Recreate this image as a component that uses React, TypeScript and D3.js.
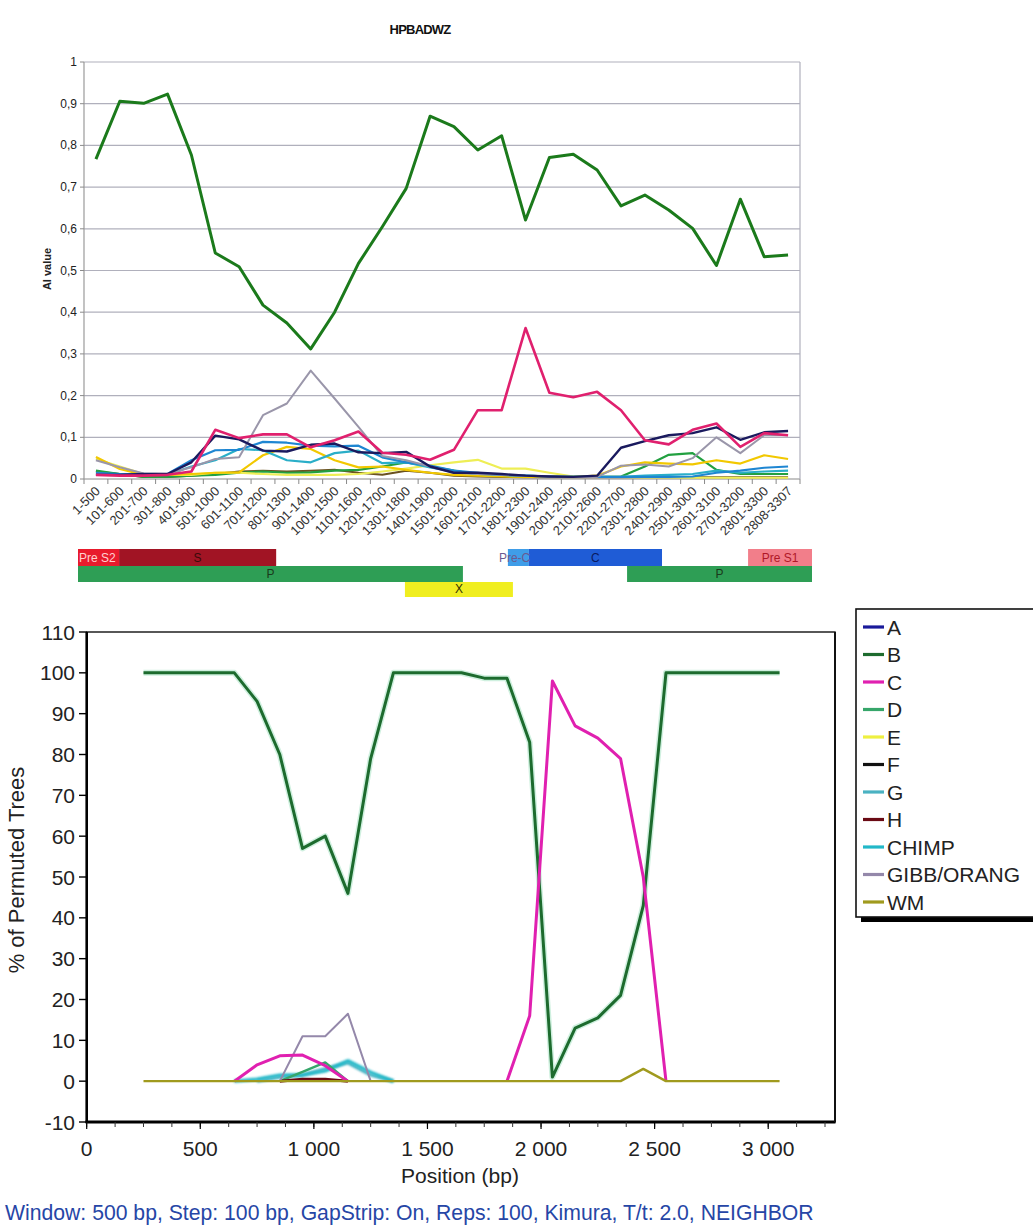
import React from "react";
import * as d3 from "d3";

// ---------------- Top chart data (AI value per window) ----------------
const topCategories = [
  "1-500", "101-600", "201-700", "301-800", "401-900", "501-1000", "601-1100",
  "701-1200", "801-1300", "901-1400", "1001-1500", "1101-1600", "1201-1700",
  "1301-1800", "1401-1900", "1501-2000", "1601-2100", "1701-2200", "1801-2300",
  "1901-2400", "2001-2500", "2101-2600", "2201-2700", "2301-2800", "2401-2900",
  "2501-3000", "2601-3100", "2701-3200", "2801-3300", "2808-3307",
];
const topYTicks = [0, 0.1, 0.2, 0.3, 0.4, 0.5, 0.6, 0.7, 0.8, 0.9, 1];
const topYTickLabels = ["0", "0,1", "0,2", "0,3", "0,4", "0,5", "0,6", "0,7", "0,8", "0,9", "1"];

const topB = [0.767, 0.906, 0.901, 0.923, 0.777, 0.542, 0.509, 0.417, 0.374, 0.312, 0.4, 0.517, 0.605, 0.697, 0.87, 0.845, 0.789, 0.823, 0.621, 0.771, 0.779, 0.741, 0.655, 0.681, 0.645, 0.601, 0.512, 0.671, 0.533, 0.537];
const topC = [0.01, 0.008, 0.008, 0.01, 0.018, 0.118, 0.098, 0.107, 0.107, 0.076, 0.093, 0.114, 0.063, 0.058, 0.046, 0.07, 0.165, 0.165, 0.362, 0.207, 0.196, 0.209, 0.165, 0.093, 0.083, 0.118, 0.133, 0.077, 0.11, 0.105];
const topGibb = [0.045, 0.028, 0.013, 0.012, 0.028, 0.048, 0.052, 0.153, 0.181, 0.26, 0.193, 0.125, 0.055, 0.045, 0.03, 0.015, 0.012, 0.01, 0.008, 0.006, 0.005, 0.005, 0.032, 0.035, 0.03, 0.05, 0.1, 0.062, 0.105, 0.105];
const topA = [0.01, 0.01, 0.012, 0.012, 0.04, 0.104, 0.095, 0.068, 0.066, 0.082, 0.085, 0.064, 0.062, 0.065, 0.03, 0.015, 0.015, 0.012, 0.008, 0.006, 0.005, 0.008, 0.075, 0.091, 0.105, 0.11, 0.124, 0.094, 0.112, 0.115];
const topG = [0.015, 0.012, 0.012, 0.012, 0.045, 0.069, 0.07, 0.089, 0.087, 0.08, 0.078, 0.08, 0.052, 0.04, 0.032, 0.02, 0.015, 0.01, 0.008, 0.006, 0.005, 0.005, 0.005, 0.005, 0.005, 0.006, 0.015, 0.02, 0.027, 0.03];
const topChimp = [0.012, 0.01, 0.01, 0.01, 0.03, 0.045, 0.072, 0.069, 0.045, 0.04, 0.062, 0.068, 0.038, 0.04, 0.028, 0.018, 0.012, 0.01, 0.008, 0.006, 0.005, 0.005, 0.005, 0.008, 0.01, 0.012, 0.02, 0.015, 0.018, 0.02];
const topE = [0.053, 0.024, 0.01, 0.01, 0.012, 0.015, 0.016, 0.057, 0.077, 0.072, 0.045, 0.028, 0.03, 0.022, 0.015, 0.01, 0.008, 0.006, 0.005, 0.005, 0.005, 0.008, 0.03, 0.04, 0.037, 0.035, 0.045, 0.037, 0.057, 0.048];
const topE2 = [0.048, 0.03, 0.012, 0.01, 0.01, 0.015, 0.015, 0.012, 0.01, 0.01, 0.01, 0.012, 0.018, 0.025, 0.033, 0.04, 0.046, 0.025, 0.025, 0.015, 0.006, 0.005, 0.005, 0.004, 0.004, 0.003, 0.003, 0.003, 0.003, 0.003];
const topD = [0.02, 0.012, 0.005, 0.005, 0.008, 0.01, 0.015, 0.018, 0.015, 0.016, 0.02, 0.022, 0.03, 0.04, 0.03, 0.02, 0.01, 0.008, 0.005, 0.005, 0.005, 0.005, 0.006, 0.03, 0.058, 0.062, 0.022, 0.012, 0.012, 0.012];
const topWM = [0.018, 0.012, 0.005, 0.005, 0.008, 0.012, 0.018, 0.02, 0.018, 0.02, 0.022, 0.015, 0.01, 0.02, 0.015, 0.008, 0.006, 0.005, 0.004, 0.004, 0.004, 0.004, 0.004, 0.004, 0.004, 0.004, 0.004, 0.004, 0.004, 0.004];

// ---------------- Genome map (bp) ----------------
const geneNames = ["Pre S2", "S", "P", "X", "Pre-C", "C", "P", "Pre S1"];
const geneStarts = [0, 180, 0, 1432, 1883, 1975, 2405, 2935];
const geneEnds = [180, 868, 1686, 1905, 1975, 2558, 3215, 3215];
const geneRows = [0, 0, 1, 2, 0, 0, 1, 0];

// ---------------- Bottom chart data (% of permuted trees) ----------------
const botPositions = [250, 350, 450, 550, 650, 750, 850, 950, 1050, 1150, 1250, 1350, 1450, 1550, 1650, 1750, 1850, 1950, 2050, 2150, 2250, 2350, 2450, 2550, 2650, 2750, 2850, 2950, 3050];
const botA = [0, 0, 0, 0, 0, 0, 0, 0, 0, 0, 0, 0, 0, 0, 0, 0, 0, 0, 0, 0, 0, 0, 0, 0, 0, 0, 0, 0, 0];
const botB = [100, 100, 100, 100, 100, 93, 80, 57, 60, 46, 79, 100, 100, 100, 100, 98.7, 98.7, 83, 1, 13, 15.5, 21, 43, 100, 100, 100, 100, 100, 100];
const botC = [0, 0, 0, 0, 0, 4, 6.2, 6.4, 3.8, 0, 0, 0, 0, 0, 0, 0, 0, 16, 98, 87, 84, 79, 50, 0, 0, 0, 0, 0, 0];
const botD = [0, 0, 0, 0, 0, 0, 0, 2.3, 4.6, 0, 0, 0, 0, 0, 0, 0, 0, 0, 0, 0, 0, 0, 0, 0, 0, 0, 0, 0, 0];
const botE = [0, 0, 0, 0, 0, 0, 0, 0, 0, 0, 0, 0, 0, 0, 0, 0, 0, 0, 0, 0, 0, 0, 0, 0, 0, 0, 0, 0, 0];
const botF = [0, 0, 0, 0, 0, 0, 0, 0, 0, 0, 0, 0, 0, 0, 0, 0, 0, 0, 0, 0, 0, 0, 0, 0, 0, 0, 0, 0, 0];
const botG = [0, 0, 0, 0, 0, 0, 1, 1.5, 3, 4.5, 1.5, 0, 0, 0, 0, 0, 0, 0, 0, 0, 0, 0, 0, 0, 0, 0, 0, 0, 0];
const botH = [0, 0, 0, 0, 0, 0, 0, 0.5, 0.5, 0, 0, 0, 0, 0, 0, 0, 0, 0, 0, 0, 0, 0, 0, 0, 0, 0, 0, 0, 0];
const botChimp = [0, 0, 0, 0, 0, 0.5, 1.5, 1.5, 2.5, 5, 2.2, 0, 0, 0, 0, 0, 0, 0, 0, 0, 0, 0, 0, 0, 0, 0, 0, 0, 0];
const botGibb = [0, 0, 0, 0, 0, 0, 0, 11, 11, 16.5, 0, 0, 0, 0, 0, 0, 0, 0, 0, 0, 0, 0, 0, 0, 0, 0, 0, 0, 0];
const botWM = [0, 0, 0, 0, 0, 0, 0, 0, 0, 0, 0, 0, 0, 0, 0, 0, 0, 0, 0, 0, 0, 0, 3, 0, 0, 0, 0, 0, 0];

const legendNames = ["A", "B", "C", "D", "E", "F", "G", "H", "CHIMP", "GIBB/ORANG", "WM"];
const botYTicks = [-10, 0, 10, 20, 30, 40, 50, 60, 70, 80, 90, 100, 110];
const botXTicks = [0, 500, 1000, 1500, 2000, 2500, 3000];

const FONT = "'Liberation Sans', Arial, sans-serif";

export default function App() {
  // ---------- top chart scales ----------
  const tx = d3.scaleBand<string>().domain(topCategories).range([84, 800]);
  const ty = d3.scaleLinear().domain([0, 1]).range([479, 62]);
  const tcx = (i: number) => (tx(topCategories[i]) as number) + tx.bandwidth() / 2;
  const topLine = d3
    .line<number>()
    .x((_, i) => tcx(i))
    .y((v) => ty(v));

  const topSeries = [
    { vals: topWM, color: "#6b5220", w: 2 },
    { vals: topD, color: "#22a040", w: 2.2 },
    { vals: topE2, color: "#eeee55", w: 2.2 },
    { vals: topE, color: "#f2c800", w: 2.2 },
    { vals: topChimp, color: "#2aaec8", w: 2.2 },
    { vals: topG, color: "#1e86d2", w: 2.2 },
    { vals: topGibb, color: "#9a96aa", w: 2 },
    { vals: topA, color: "#1a1a5e", w: 2.4 },
    { vals: topC, color: "#e0206e", w: 2.6 },
    { vals: topB, color: "#1b7a1b", w: 3 },
  ];

  // ---------- genome bars ----------
  const gx = d3.scaleLinear().domain([0, 3215]).range([78, 812]);
  const rowY = [549, 566, 582];
  const rowH = [17, 16, 15];
  const geneFill = ["#e81a2c", "#a11424", "#2e9e55", "#f0ee20", "#3f9de8", "#1f5cd6", "#2e9e55", "#f27e8a"];
  const geneText = ["#ffd0d0", "#3a0a0a", "#1a3a1a", "#333300", "#6a5a90", "#0a1a60", "#1a3a1a", "#b01828"];

  // ---------- bottom chart scales ----------
  const bx = d3.scaleLinear().domain([0, 3294]).range([86.7, 835]);
  const by = d3.scaleLinear().domain([-10, 110]).range([1122, 632]);
  const botLineFull = d3
    .line<number>()
    .x((_, i) => bx(botPositions[i]))
    .y((v) => by(v));
  const botLineNonZero = (vals: number[]) =>
    d3
      .line<number>()
      .defined((v, i) => v !== 0 || (vals[i - 1] ?? 0) > 0 || (vals[i + 1] ?? 0) > 0)
      .x((_, i) => bx(botPositions[i]))
      .y((v) => by(v))(vals);

  const legendColors = ["#1a1a9a", "#1d6b2e", "#e020b0", "#36a66a", "#eef040", "#111111", "#4ab2c2", "#6a0a14", "#22b8c8", "#9488aa", "#a09a1e"];
  const botSeriesOrder = [
    { vals: botA, ci: 0, w: 3 },
    { vals: botE, ci: 4, w: 3 },
    { vals: botF, ci: 5, w: 3 },
    { vals: botG, ci: 6, w: 3.2, soft: true },
    { vals: botChimp, ci: 8, w: 3.2, soft: true },
    { vals: botD, ci: 3, w: 2.4 },
    { vals: botH, ci: 7, w: 3 },
    { vals: botGibb, ci: 9, w: 2 },
    { vals: botB, ci: 1, w: 3, halo: true, full: true },
    { vals: botC, ci: 2, w: 3 },
    { vals: botWM, ci: 10, w: 2.4, full: true },
  ];

  const minorX = d3.range(0, 3294, 125);
  const fmtBp = (n: number) =>
    n >= 1000 ? `${Math.floor(n / 1000)} ${String(n % 1000).padStart(3, "0")}` : `${n}`;

  const LX = 856;

  return (
    <svg
      width={1033}
      height={1229}
      viewBox="0 0 1033 1229"
      style={{ position: "absolute", left: 0, top: 0, background: "#fff" }}
      fontFamily={FONT}
    >
      <defs>
        <filter id="soft" x="-5%" y="-50%" width="110%" height="200%">
          <feGaussianBlur stdDeviation="0.9" />
        </filter>
      </defs>
      <rect x={0} y={0} width={1033} height={1229} fill="#ffffff" />

      {/* ================= TOP CHART ================= */}
      <text x={420} y={34} textAnchor="middle" fontSize={13} fontWeight="bold" letterSpacing={-0.8} fill="#111">
        HPBADWZ
      </text>
      <text
        transform={`translate(51,269) rotate(-90)`}
        textAnchor="middle"
        fontSize={11}
        fontWeight="bold"
        fill="#222"
      >
        AI value
      </text>

      {/* grid */}
      {topYTicks.map((t) => (
        <line key={"g" + t} x1={84} x2={800} y1={ty(t)} y2={ty(t)} stroke={t === 0 ? "#8a8a8a" : "#b0b0bc"} strokeWidth={1.2} />
      ))}
      <line x1={84} x2={84} y1={62} y2={479} stroke="#9a9a9a" strokeWidth={1.2} />
      <line x1={800} x2={800} y1={62} y2={479} stroke="#b0b0bc" strokeWidth={1.2} />
      {topYTicks.map((t, i) => (
        <g key={"yt" + t}>
          <line x1={80} x2={84} y1={ty(t)} y2={ty(t)} stroke="#8a8a8a" />
          <text x={77} y={ty(t) + 4} textAnchor="end" fontSize={12} fill="#222">
            {topYTickLabels[i]}
          </text>
        </g>
      ))}
      {/* x ticks at category boundaries */}
      {topCategories.map((c) => (
        <line key={"xt" + c} x1={tx(c) as number} x2={tx(c) as number} y1={479} y2={484} stroke="#8a8a8a" />
      ))}
      <line x1={800} x2={800} y1={479} y2={484} stroke="#8a8a8a" />
      {topCategories.map((c, i) => (
        <text
          key={"xl" + c}
          transform={`translate(${tcx(i) + 5},${492}) rotate(-45)`}
          textAnchor="end"
          fontSize={13}
          fill="#333"
        >
          {c}
        </text>
      ))}

      {/* series */}
      {topSeries.map((s, k) => (
        <path key={"ts" + k} d={topLine(s.vals) as string} fill="none" stroke={s.color} strokeWidth={s.w} strokeLinejoin="round" />
      ))}

      {/* ================= GENOME MAP ================= */}
      {geneNames.map((g, i) => (
        <rect
          key={"gb" + i}
          x={gx(geneStarts[i])}
          y={rowY[geneRows[i]]}
          width={gx(geneEnds[i]) - gx(geneStarts[i])}
          height={rowH[geneRows[i]]}
          fill={geneFill[i]}
        />
      ))}
      {geneNames.map((g, i) => {
        const mid = (gx(geneStarts[i]) + gx(geneEnds[i])) / 2;
        const isPreS2 = g === "Pre S2";
        const isPreC = g === "Pre-C";
        const x = isPreS2 ? gx(geneStarts[i]) + 1 : isPreC ? gx(geneStarts[i]) - 9 : mid;
        return (
          <text
            key={"gt" + i}
            x={x}
            y={rowY[geneRows[i]] + rowH[geneRows[i]] - 4}
            textAnchor={isPreS2 || isPreC ? "start" : "middle"}
            fontSize={12}
            fill={geneText[i]}
          >
            {g}
          </text>
        );
      })}

      {/* ================= BOTTOM CHART ================= */}
      <rect x={86.7} y={632} width={748.3} height={490} fill="none" stroke="#111" strokeWidth={1.4} />
      <line x1={86.7} x2={86.7} y1={632} y2={1123} stroke="#000" strokeWidth={2.6} />
      <line x1={85.5} x2={835.5} y1={1122} y2={1122} stroke="#000" strokeWidth={3} />
      <line x1={835} x2={835} y1={632} y2={1122} stroke="#111" strokeWidth={2} />

      {botYTicks.map((t) => (
        <g key={"byt" + t}>
          <line x1={79} x2={86.7} y1={by(t)} y2={by(t)} stroke="#000" strokeWidth={1.4} />
          <text x={75} y={by(t) + 7.5} textAnchor="end" fontSize={21} fill="#222">
            {t}
          </text>
        </g>
      ))}
      {minorX.map((t) => (
        <line key={"bmx" + t} x1={bx(t)} x2={bx(t)} y1={1122} y2={1127} stroke="#333" strokeWidth={1} />
      ))}
      {botXTicks.map((t) => (
        <g key={"bxt" + t}>
          <line x1={bx(t)} x2={bx(t)} y1={1122} y2={1129} stroke="#000" strokeWidth={1.2} />
          <text x={bx(t)} y={1156} textAnchor="middle" fontSize={21} fill="#222">
            {fmtBp(t)}
          </text>
        </g>
      ))}
      <text x={460} y={1183} textAnchor="middle" fontSize={21} fill="#222">
        Position (bp)
      </text>
      <text transform="translate(24,870) rotate(-90)" textAnchor="middle" fontSize={22} fill="#222">
        % of Permuted Trees
      </text>

      {/* series */}
      {botSeriesOrder.map((s, k) => {
        const d = (s.full ? botLineFull(s.vals) : botLineNonZero(s.vals)) as string;
        return (
          <g key={"bs" + k}>
            {s.halo && (
              <path d={d} fill="none" stroke="#a8e4c4" strokeWidth={6} strokeOpacity={0.55} strokeLinejoin="round" />
            )}
            <path
              d={d}
              fill="none"
              stroke={legendColors[s.ci]}
              strokeWidth={s.w}
              strokeLinejoin="round"
              filter={s.soft ? "url(#soft)" : undefined}
            />
          </g>
        );
      })}

      {/* legend */}
      <rect x={LX + 5} y={614} width={200} height={308} fill="#000" />
      <rect x={LX} y={609} width={200} height={308} fill="#fff" stroke="#111" strokeWidth={1.6} />
      {legendNames.map((n, i) => {
        const y = 627 + i * 27.5;
        return (
          <g key={"lg" + n}>
            <line x1={LX + 7} x2={LX + 28} y1={y} y2={y} stroke={legendColors[i]} strokeWidth={3.2} />
            <text x={LX + 31} y={y + 7.5} fontSize={21} fill="#222">
              {n}
            </text>
          </g>
        );
      })}

      {/* footer */}
      <text x={5} y={1220} fontSize={21.2} fill="#2646a6">
        Window: 500 bp, Step: 100 bp, GapStrip: On, Reps: 100, Kimura, T/t: 2.0, NEIGHBOR
      </text>
    </svg>
  );
}
